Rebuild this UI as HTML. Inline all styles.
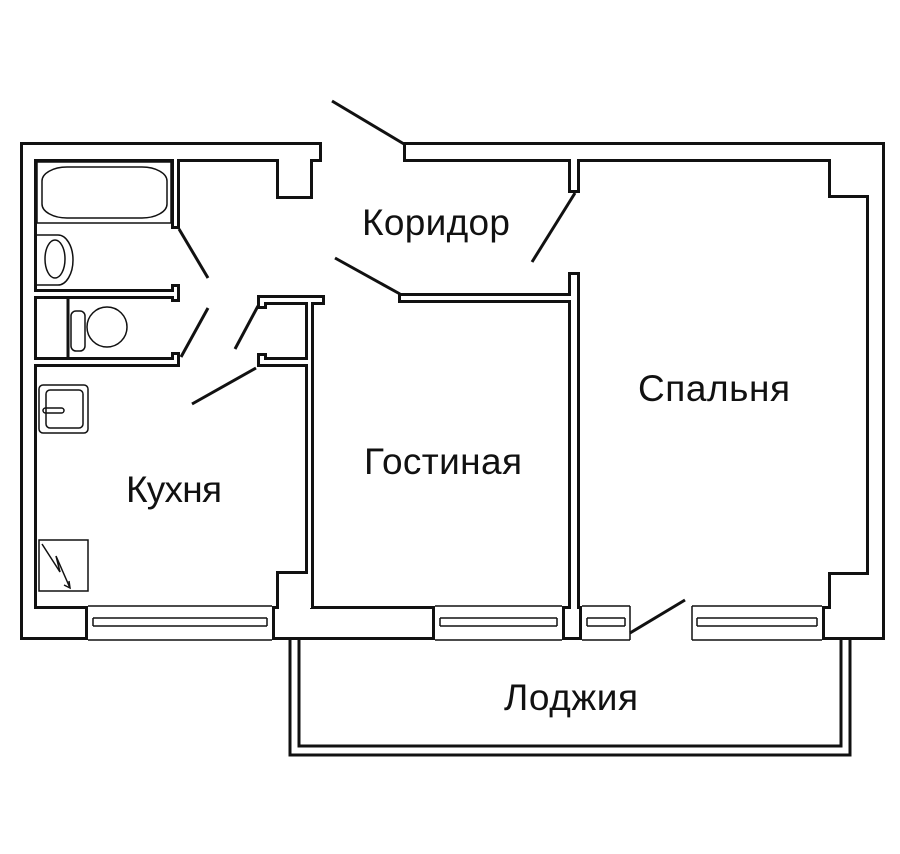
<!DOCTYPE html>
<html><head><meta charset="utf-8"><style>
html,body{margin:0;padding:0;background:#fff;}
svg{display:block}
text{font-family:"Liberation Sans",sans-serif;font-size:37px;fill:#111;}
</style></head><body>
<svg width="900" height="854" viewBox="0 0 900 854" xmlns="http://www.w3.org/2000/svg">
<rect width="900" height="854" fill="#fff"/>
<g fill="#111">
<rect x="20" y="142" width="302" height="20"/>
<rect x="20" y="142" width="17" height="498"/>
<rect x="403" y="142" width="482" height="20"/>
<rect x="866" y="142" width="19" height="498"/>
<rect x="20" y="606" width="68" height="34"/>
<rect x="272" y="606" width="163" height="34"/>
<rect x="562" y="606" width="20" height="34"/>
<rect x="822" y="606" width="63" height="34"/>
<rect x="276" y="160" width="37" height="39"/>
<rect x="828" y="160" width="38" height="38"/>
<rect x="828" y="572" width="38" height="36"/>
<rect x="276" y="571" width="37" height="37"/>
<rect x="171" y="160" width="9" height="69"/>
<rect x="37" y="289" width="143" height="10"/>
<rect x="171" y="284" width="9" height="18"/>
<rect x="37" y="357" width="143" height="10"/>
<rect x="171" y="352" width="9" height="15"/>
<rect x="257" y="295" width="68" height="10"/>
<rect x="257" y="295" width="10" height="14"/>
<rect x="305" y="295" width="9" height="313"/>
<rect x="257" y="357" width="57" height="10"/>
<rect x="257" y="353" width="10" height="14"/>
<rect x="398" y="293" width="182" height="10"/>
<rect x="568" y="160" width="12" height="33"/>
<rect x="568" y="272" width="12" height="336"/>
</g>
<g fill="#fff">
<rect x="23" y="145" width="296" height="14"/>
<rect x="23" y="145" width="11" height="492"/>
<rect x="406" y="145" width="476" height="14"/>
<rect x="869" y="145" width="13" height="492"/>
<rect x="23" y="609" width="62" height="28"/>
<rect x="275" y="609" width="157" height="28"/>
<rect x="565" y="609" width="14" height="28"/>
<rect x="825" y="609" width="57" height="28"/>
<rect x="279" y="159" width="31" height="37"/>
<rect x="831" y="159" width="38" height="36"/>
<rect x="831" y="575" width="38" height="34"/>
<rect x="279" y="574" width="31" height="35"/>
<rect x="174" y="159" width="3" height="67"/>
<rect x="34" y="292" width="143" height="4"/>
<rect x="174" y="287" width="3" height="12"/>
<rect x="34" y="360" width="143" height="4"/>
<rect x="174" y="355" width="3" height="9"/>
<rect x="260" y="298" width="62" height="4"/>
<rect x="260" y="298" width="4" height="8"/>
<rect x="308" y="298" width="3" height="310"/>
<rect x="260" y="360" width="51" height="4"/>
<rect x="260" y="356" width="4" height="8"/>
<rect x="401" y="296" width="176" height="4"/>
<rect x="571" y="159" width="6" height="31"/>
<rect x="571" y="275" width="6" height="334"/>
</g>
<g fill="none" stroke="#111" stroke-width="1.5">
<path d="M88 606H272M88 640H272M93 618H267M93 626H267M93 618V626M267 618V626"/>
<path d="M435 606H562M435 640H562M440 618H557M440 626H557M440 618V626M557 618V626"/>
<path d="M582 606H630M582 640H630M587 618H625M587 626H625M587 618V626M625 618V626M630 606V640"/>
<path d="M692 606H822M692 640H822M697 618H817M697 626H817M697 618V626M817 618V626M692 606V640"/>
</g>
<g stroke="#111" stroke-width="3" fill="none">
<path d="M290 640V755H850V640"/>
<path d="M299 640V746H841V640"/>
<line x1="332" y1="101" x2="404" y2="144"/>
<line x1="335" y1="258" x2="400" y2="294"/>
<line x1="575" y1="193" x2="532" y2="262"/>
<line x1="179" y1="229" x2="208" y2="278"/>
<line x1="208" y1="308" x2="181" y2="357"/>
<line x1="258" y1="306" x2="235" y2="349"/>
<line x1="256" y1="368" x2="192" y2="404"/>
<line x1="630" y1="633" x2="685" y2="600"/>
</g>
<g fill="none" stroke="#111" stroke-width="1.5">
<rect x="37" y="162" width="134" height="61"/>
<rect x="42" y="167" width="125" height="51" rx="25" ry="14"/>
<path d="M37 235H58A15 25 0 0 1 58 285H37"/>
<ellipse cx="55" cy="259" rx="10" ry="19"/>
<line x1="68" y1="299" x2="68" y2="357" stroke-width="3"/>
<rect x="71" y="311" width="14" height="40" rx="5"/>
<ellipse cx="107" cy="327" rx="20" ry="20"/>
<rect x="39" y="385" width="49" height="48" rx="4"/>
<rect x="46" y="390" width="37" height="38" rx="4"/>
<rect x="43" y="408" width="21" height="5" rx="2.5"/>
<rect x="39" y="540" width="49" height="51"/>
<path d="M42 544L60 572L56 556L70 588"/>
<path d="M64 585L70 588L69 581"/>
</g>
<text x="362" y="235" textLength="148">Коридор</text>
<text x="638" y="401" textLength="152">Спальня</text>
<text x="364" y="474" textLength="158">Гостиная</text>
<text x="126" y="502" textLength="96">Кухня</text>
<text x="504" y="710" textLength="134">Лоджия</text>
</svg>
</body></html>
